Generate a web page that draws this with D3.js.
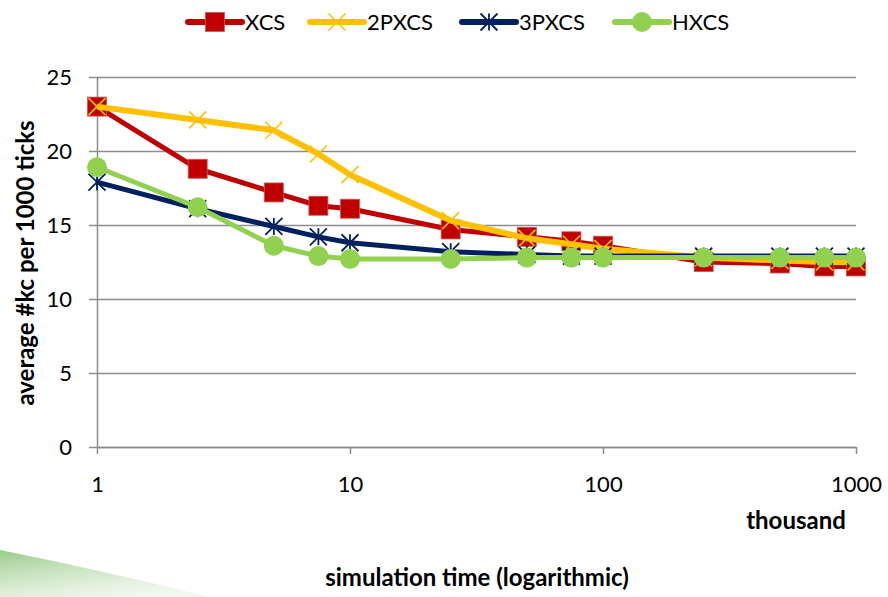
<!DOCTYPE html>
<html>
<head>
<meta charset="utf-8">
<script src="https://cdn.jsdelivr.net/npm/d3@7"></script>
<style>
body { margin: 0; background: #fff; }
svg { font-family: Lato, "Open Sans", sans-serif; }
</style>
</head>
<body>
<svg id="svg" width="888" height="597"></svg>
<script>
// data
const times = [1, 2.5, 5, 7.5, 10, 25, 50, 75, 100, 250, 500, 750, 1000];
const xcs   = [23.0, 18.8, 17.2, 16.3, 16.1, 14.7, 14.2, 13.9, 13.6, 12.5, 12.4, 12.2, 12.2];
const pxcs2 = [23.0, 22.1, 21.4, 19.8, 18.4, 15.3, 14.1, 13.7, 13.4, 12.8, 12.6, 12.5, 12.5];
const pxcs3 = [17.9, 16.1, 14.9, 14.2, 13.8, 13.2, 13.0, 12.9, 12.9, 12.9, 12.9, 12.9, 12.9];
const hxcs  = [18.9, 16.2, 13.6, 12.9, 12.7, 12.7, 12.8, 12.8, 12.8, 12.8, 12.8, 12.8, 12.8];
const seriesNames = ['XCS', '2PXCS', '3PXCS', 'HXCS'];
const xTicks = [1, 10, 100, 1000];
const yTicks = [0, 5, 10, 15, 20, 25];

const series = [
  {name: seriesNames[0], values: xcs,   color: '#C00000', marker: 'square', w: 5},
  {name: seriesNames[1], values: pxcs2, color: '#FFC000', marker: 'x',      w: 6},
  {name: seriesNames[2], values: pxcs3, color: '#002060', marker: 'star',   w: 5},
  {name: seriesNames[3], values: hxcs,  color: '#92D050', marker: 'circle', w: 5}
];

const svg = d3.select('#svg');

// background swoosh (slide decoration)
const defs = svg.append('defs');
const grad = defs.append('linearGradient').attr('id', 'sw').attr('x1', 0).attr('x2', 0.6).attr('y1', 0).attr('y2', 1);
grad.append('stop').attr('offset', '0%').attr('stop-color', '#93c884').attr('stop-opacity', 0.95);
grad.append('stop').attr('offset', '100%').attr('stop-color', '#e3f1dc').attr('stop-opacity', 0.5);
svg.append('path')
  .attr('d', 'M0,550 Q105,571 210,597 L0,597 Z')
  .attr('fill', 'url(#sw)');

const pLeft = 97, pRight = 856, pTop = 77, pBottom = 447;

const x = d3.scaleLog().domain([1, 1000]).range([pLeft, pRight]);
const y = d3.scaleLinear().domain([0, 25]).range([pBottom, pTop]);

//grid
svg.append('g')
  .attr('transform', 'translate(' + pLeft + ',0)')
  .call(d3.axisLeft(y).tickValues(yTicks).tickSize(-(pRight - pLeft)).tickFormat(''))
  .call(g => g.select('.domain').remove())
  .call(g => g.selectAll('line').attr('stroke', '#8c8c8c').attr('stroke-width', 1.5));

// y axis
const yAxis = svg.append('g')
  .attr('transform', 'translate(' + pLeft + ',0)')
  .call(d3.axisLeft(y).tickValues(yTicks).tickSize(8).tickSizeOuter(0).tickPadding(17));
yAxis.select('.domain').attr('stroke', '#8c8c8c').attr('stroke-width', 1.5);
yAxis.selectAll('line').attr('stroke', '#8c8c8c').attr('stroke-width', 1.5);
yAxis.selectAll('text').attr('font-size', 22).attr('fill', '#000').attr('font-family', 'Lato');

//x axis
const xAxis = svg.append('g')
  .attr('transform', 'translate(0,' + pBottom + ')')
  .call(d3.axisBottom(x).tickValues(xTicks).tickFormat(d3.format('d')).tickSize(7).tickSizeOuter(0).tickPadding(22));
xAxis.select('.domain').attr('stroke', '#8c8c8c').attr('stroke-width', 1.5);
xAxis.selectAll('line').attr('stroke', '#8c8c8c').attr('stroke-width', 1.5);
xAxis.selectAll('text').attr('font-size', 22).attr('fill', '#000').attr('font-family', 'Lato');

function drawMarker(g, type, color, size) {
  const h = size / 2;
  if (type === 'square') {
    g.append('rect').attr('x', -h).attr('y', -h).attr('width', size).attr('height', size)
      .attr('fill', color).attr('stroke', '#c55a5a').attr('stroke-width', 0.8);
  } else if (type === 'circle') {
    g.append('circle').attr('r', h).attr('fill', color);
  } else if (type === 'x') {
    g.append('path').attr('d', 'M' + -h + ',' + -h + 'L' + h + ',' + h + 'M' + -h + ',' + h + 'L' + h + ',' + -h)
      .attr('stroke', color).attr('stroke-width', 1.6).attr('fill', 'none');
  } else if (type === 'star') {
    g.append('path').attr('d', 'M' + -h + ',' + -h + 'L' + h + ',' + h + 'M' + -h + ',' + h + 'L' + h + ',' + -h + 'M0,' + -h + 'L0,' + h)
      .attr('stroke', color).attr('stroke-width', 1.8).attr('fill', 'none');
  }
}

const markerSize = {square: 19, circle: 20, x: 17, star: 17};

const line = d3.line().x((d, i) => x(times[i])).y(d => y(d));

series.forEach(s => {
  svg.append('path')
    .datum(s.values)
    .attr('d', line)
    .attr('fill', 'none')
    .attr('stroke', s.color)
    .attr('stroke-width', s.w)
    .attr('stroke-linejoin', 'round');
  s.values.forEach((v, i) => {
    const g = svg.append('g').attr('transform', 'translate(' + x(times[i]) + ',' + y(v) + ')');
    drawMarker(g, s.marker, s.color, markerSize[s.marker]);
  });
});

// legend
const legX = [188, 310, 462, 615];
series.forEach((s, i) => {
  const lg = svg.append('g').attr('transform', 'translate(' + legX[i] + ',22)');
  lg.append('line').attr('x1', 0).attr('x2', 54).attr('stroke', s.color).attr('stroke-width', 6).attr('stroke-linecap', 'round');
  const m = lg.append('g').attr('transform', 'translate(27,0)');
  drawMarker(m, s.marker, s.color, markerSize[s.marker]);
  lg.append('text').attr('x', 57).attr('y', 0).attr('dy', '0.36em')
    .attr('font-size', 22).text(s.name);
});

// titles
svg.append('text')
  .attr('transform', 'translate(34,263) rotate(-90)')
  .attr('text-anchor', 'middle')
  .attr('font-size', 24).attr('font-weight', 'bold')
  .text('average #kc per 1000 ticks');

svg.append('text')
  .attr('x', 796).attr('y', 529)
  .attr('text-anchor', 'middle')
  .attr('font-size', 24).attr('font-weight', 'bold')
  .text('thousand');

svg.append('text')
  .attr('x', 477).attr('y', 586)
  .attr('text-anchor', 'middle')
  .attr('font-size', 24).attr('font-weight', 'bold')
  .text('simulation time (logarithmic)');
</script>
</body>
</html>
